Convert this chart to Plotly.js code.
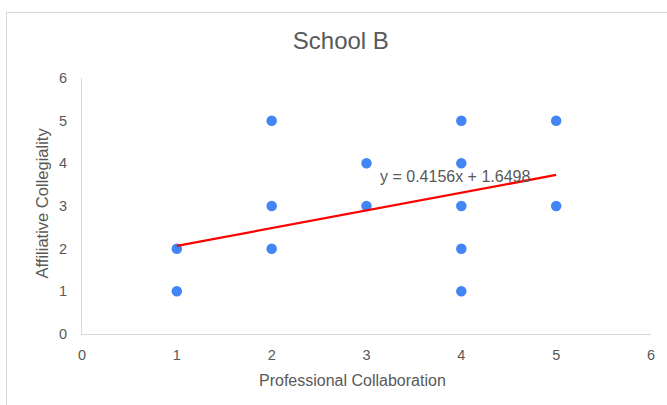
<!DOCTYPE html>
<html>
<head>
<meta charset="utf-8">
<script src="https://cdn.plot.ly/plotly-3.0.1.min.js"></script>
<style>
html,body{margin:0;padding:0;background:#fff;}
#wrap{position:relative;width:667px;height:405px;overflow:hidden;}
#chart{width:667px;height:405px;}
#frame{position:absolute;left:6px;top:12px;width:700px;height:450px;border:1px solid #d9d9d9;pointer-events:none;box-sizing:border-box;}
</style>
</head>
<body>
<div id="wrap"><div id="chart"></div><div id="frame"></div></div>
<script>
const chartTitle = "School B";
const xTitle = "Professional Collaboration";
const yTitle = "Affiliative Collegiality";
const xValues = [1, 1, 2, 2, 2, 3, 3, 4, 4, 4, 4, 4, 5, 5];
const yValues = [1, 2, 2, 3, 5, 3, 4, 1, 2, 3, 4, 5, 3, 5];
const slope = 0.4156;
const intercept = 1.6498;
const trendX = [1, 5];
const tickVals = [0, 1, 2, 3, 4, 5, 6];

const trendY = trendX.map(x => slope * x + intercept);
const eqText = "y = " + slope + "x + " + intercept;
const grey = "#595959";
const font = "Liberation Sans, Arial, sans-serif";

const data = [
  {x: xValues, y: yValues, type: "scatter", mode: "markers",
   marker: {color: "#4285f4", size: 10.5}, hoverinfo: "x+y"},
  {x: trendX, y: trendY, type: "scatter", mode: "lines",
   line: {color: "#ff0000", width: 2.3}}
];

const layout = {
  width: 667, height: 405,
  margin: {l: 82, r: 16, t: 78, b: 71},
  showlegend: false,
  paper_bgcolor: "#fff", plot_bgcolor: "#fff",
  font: {family: font, color: grey, size: 13},
  title: {text: chartTitle, font: {family: font, size: 24, color: grey},
          x: 0.511, xref: "container", y: 1 - 41/405, yref: "container",
          xanchor: "center", yanchor: "middle"},
  xaxis: {range: [0, 6], tickvals: tickVals, showgrid: false, zeroline: false,
          showline: true, linecolor: "#d9d9d9", linewidth: 1, ticks: "",
          ticklabelstandoff: 8, tickfont: {size: 14.5, color: grey}, fixedrange: true},
  yaxis: {range: [0, 6], tickvals: tickVals, showgrid: false, zeroline: false,
          showline: true, linecolor: "#d9d9d9", linewidth: 1, ticks: "",
          ticklabelstandoff: 11, tickfont: {size: 14.5, color: grey}, fixedrange: true},
  annotations: [
    {text: eqText, x: 3.12, y: 3.70, xref: "x", yref: "y", xanchor: "left",
     yanchor: "middle", showarrow: false, font: {size: 16, color: grey}},
    {text: xTitle, x: 0.475, y: (334-380)/256, xref: "paper", yref: "paper",
     xanchor: "center", yanchor: "middle", showarrow: false, font: {size: 16, color: grey}},
    {text: yTitle, x: (42-82)/569, y: 0.51, xref: "paper", yref: "paper",
     xanchor: "center", yanchor: "middle", textangle: -90, showarrow: false,
     font: {size: 16.5, color: grey}}
  ]
};

Plotly.newPlot("chart", data, layout, {displayModeBar: false, staticPlot: true});
</script>
</body>
</html>
